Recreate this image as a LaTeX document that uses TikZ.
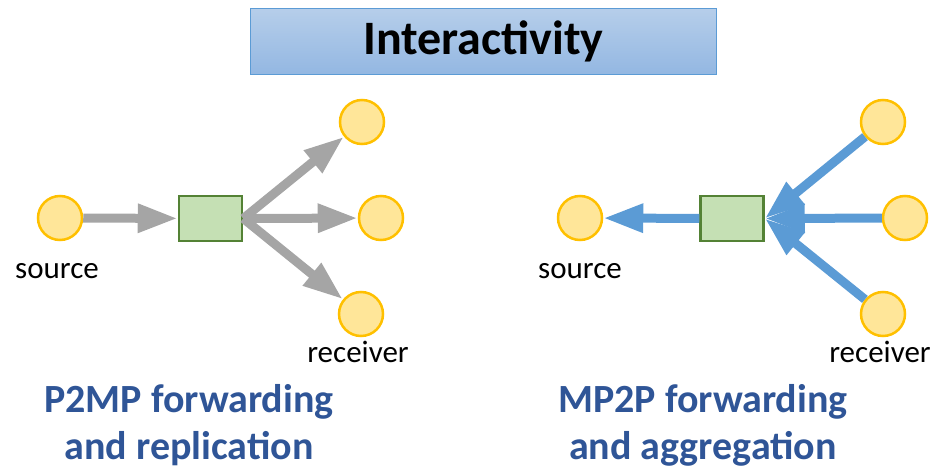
\documentclass[tikz,border=0pt]{standalone}
\usepackage{fontspec}
\setmainfont{Carlito}
\usetikzlibrary{arrows.meta}
\definecolor{boxblue}{HTML}{5B9BD5}
\definecolor{titletop}{HTML}{B6CEEA}
\definecolor{titlebot}{HTML}{93B7E2}
\definecolor{nodefill}{HTML}{FFE699}
\definecolor{nodeline}{HTML}{FFC000}
\definecolor{swfill}{HTML}{C5E0B4}
\definecolor{swline}{HTML}{548235}
\definecolor{flowgray}{HTML}{A5A5A5}
\definecolor{captblue}{HTML}{2F5597}

\begin{document}
\begin{tikzpicture}[x=1pt, y=-1pt,
	host/.style={circle, draw=nodeline, fill=nodefill, line width=2.5pt, minimum size=44pt, inner sep=0pt},
	switch/.style={rectangle, draw=swline, fill=swfill, line width=2.5pt, minimum width=63pt, minimum height=45pt, inner sep=0pt},
	lbl/.style={font=\fontsize{31}{34}\selectfont, anchor=base},
	capt/.style={font=\fontsize{40}{47}\selectfont\bfseries, text=captblue, align=center},
	flow/.style={line width=9pt, -{Triangle[length=40pt, width=27pt]}}]
	\useasboundingbox (0,0) rectangle (936,470);
	%Title
	\node [draw=boxblue, line width=1.2pt, top color=titletop, bottom color=titlebot,
		minimum width=466pt, minimum height=66pt, font=\fontsize{48}{50}\selectfont\bfseries] (title) at (483.5,41.5) {\raisebox{-2pt}{Interactivity}};
	%P2MP
	\node [host] (srcA) at (60,218) {};
	\node [switch] (swA) at (210.5,218.5) {};
	\node [host] (rcvA1) at (362,122) {};
	\node [host] (rcvA2) at (381,218) {};
	\node [host] (rcvA3) at (361,314) {};
	\draw [flow, flowgray] (srcA) -- (swA);
	\draw [flow, flowgray] (swA.east) -- (rcvA1);
	\draw [flow, flowgray] (swA.east) -- (rcvA2);
	\draw [flow, flowgray] (swA.east) -- (rcvA3);
	\node [lbl] (srcAlbl) at (57,278) {source};
	\node [lbl] (rcvAlbl) at (358,362) {receiver};
	%MP2P
	\node [host] (srcB) at (580,218) {};
	\node [switch] (swB) at (732,218.5) {};
	\node [host] (rcvB1) at (883,122) {};
	\node [host] (rcvB2) at (905,218) {};
	\node [host] (rcvB3) at (883,314) {};
	\draw [flow, boxblue] (swB) -- (srcB);
	\draw [flow, boxblue] (rcvB1) -- (swB.east);
	\draw [flow, boxblue] (rcvB2) -- (swB.east);
	\draw [flow, boxblue] (rcvB3) -- (swB.east);
	\node [lbl] (srcBlbl) at (580,278) {source};
	\node [lbl] (rcvBlbl) at (880,362) {receiver};
	%Captions
	\node [capt] (captA) at (189,425) {P2MP forwarding\\and replication};
	\node [capt] (captB) at (703,425) {MP2P forwarding\\and aggregation};
\end{tikzpicture}
\end{document}
